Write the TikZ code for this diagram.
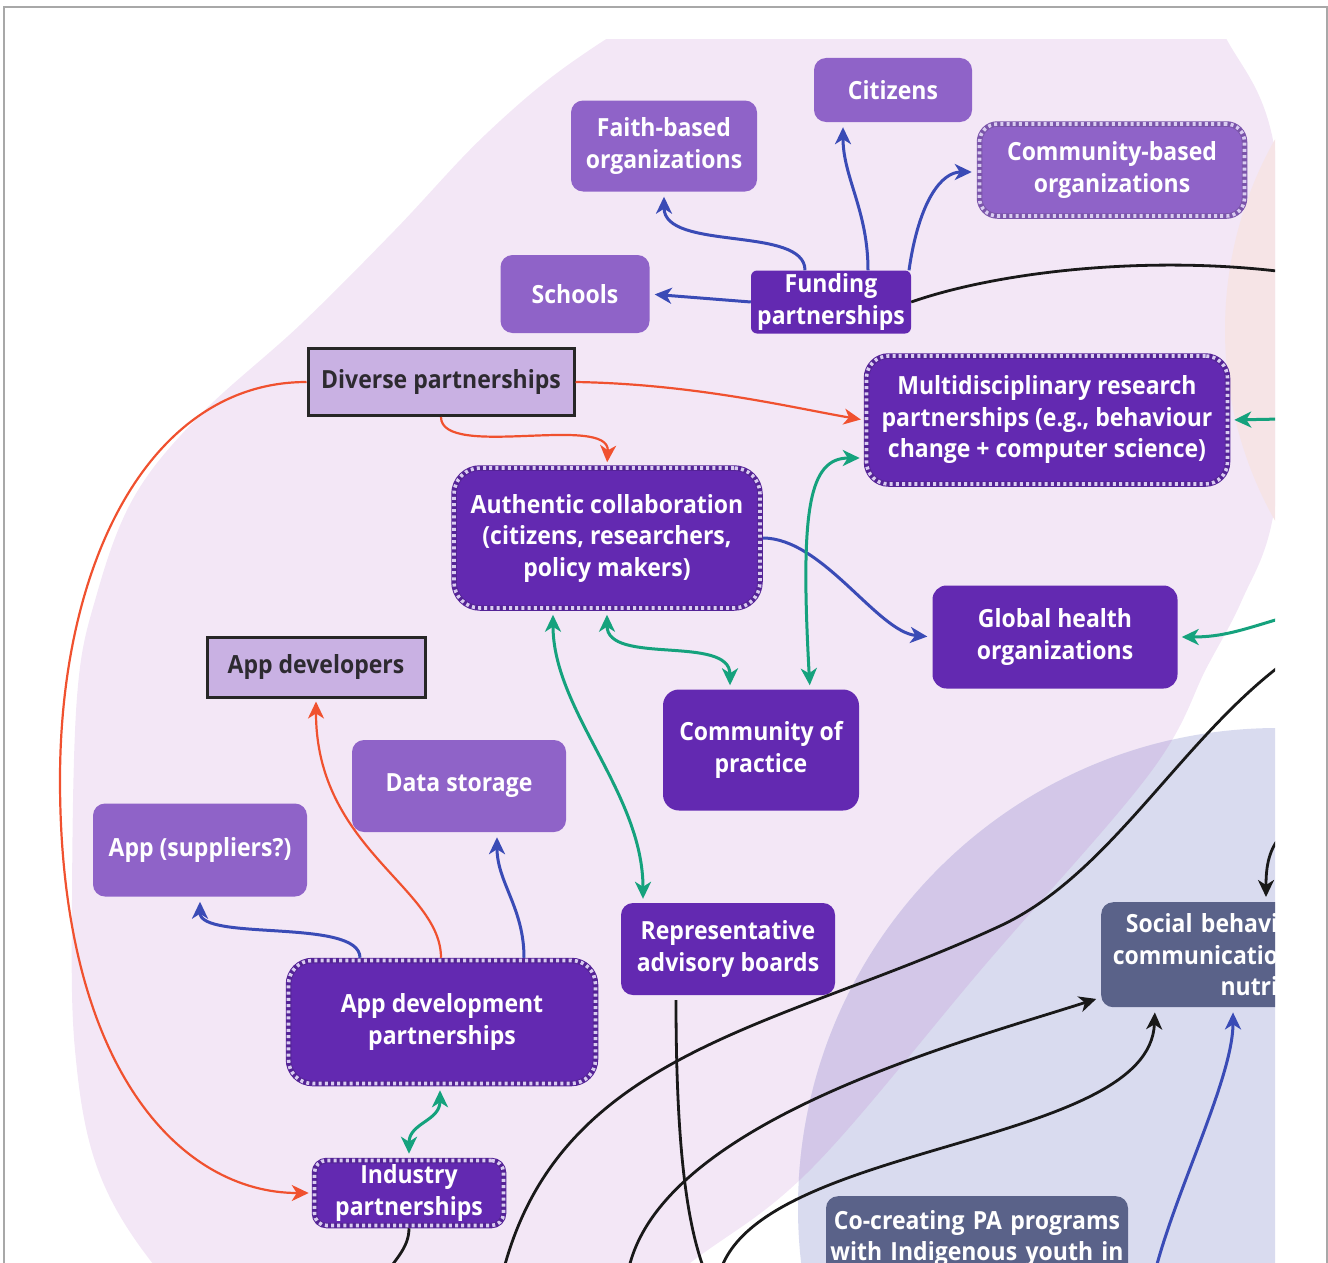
\documentclass[tikz,border=0pt]{standalone}
\usepackage{fontspec}
\setmainfont{Open Sans}[FakeStretch=0.92]
\usetikzlibrary{arrows.meta}

\definecolor{lightpurple}{HTML}{8F63C8}
\definecolor{darkpurple}{HTML}{6329B1}
\definecolor{palepurple}{HTML}{C9B1E3}
\definecolor{textgrey}{HTML}{2D2A30}
\definecolor{slate}{HTML}{5A6289}
\definecolor{stitch}{HTML}{D9CCF0}
\definecolor{lavender}{HTML}{F3E7F6}
\definecolor{blush}{HTML}{F6E4E6}
\definecolor{slatebg}{HTML}{D9DBEF}
\definecolor{overlap}{HTML}{D3C7E8}
\definecolor{linkblue}{HTML}{3A4BB6}
\definecolor{linkred}{HTML}{F0512F}
\definecolor{linkgreen}{HTML}{15A27D}
\definecolor{framegrey}{HTML}{A8A8A8}

\tikzset{
  box/.style={rounded corners=12pt, align=center, inner sep=0pt, text=white,
    font=\bfseries\fontsize{25}{31.5}\selectfont},
  lightbox/.style={box, fill=lightpurple},
  darkbox/.style={box, fill=darkpurple},
  slatebox/.style={box, fill=slate},
  palebox/.style={box, rounded corners=0pt, fill=palepurple, draw=black!85,
    line width=3pt, text=textgrey},
  stitched/.style={draw=#1!85!black, line width=5.5pt,
    postaction={draw=stitch, line width=3.6pt, dash pattern=on 3pt off 3.2pt}},
  bluelink/.style={linkblue, line width=3pt, ->, shorten >=5pt},
  redlink/.style={linkred, line width=2.2pt, ->, shorten >=3pt},
  greenlink/.style={linkgreen, line width=3pt, ->, shorten >=4pt},
  greenboth/.style={linkgreen, line width=3pt, <->, shorten >=4pt, shorten <=4pt},
  blackline/.style={black!90, line width=2.8pt},
  blacklink/.style={blackline, ->, shorten >=5pt},
}

\newcommand{\lavenderblob}{plot[smooth cycle, tension=0.6] coordinates {
  (1227,40) (1273,140) (1290,350) (1273,517) (1242,600) (1207,667) (1150,773)
  (985,965) (812,1168) (690,1263) (560,1360) (380,1400) (230,1340) (150,1260)
  (97,1167) (75,1050) (72,900) (77,697) (96,597) (134,497) (200,415) (300,325)
  (395,230) (485,135) (575,60) (680,0) (850,-60) (1050,-80) (1180,-30)}}

\begin{document}
\begin{tikzpicture}[x=1pt, y=-1pt, >={Stealth[length=17pt, width=16pt, inset=5pt]}]
  \useasboundingbox (0,0) rectangle (1328,1263);
  \draw[framegrey, line width=1.5pt] (4,1263) -- (4,7) -- (1327,7) -- (1327,1263);

  \begin{scope}
    \clip (0,40) rectangle (1275,1263);
    \fill[lavender] \lavenderblob;
    \fill[blush] (1613,330) circle[radius=388pt];
    \fill[slatebg] (1278,1208) circle[radius=480pt];
    \begin{scope}
      \clip \lavenderblob;
      \fill[overlap] (1278,1208) circle[radius=480pt];
    \end{scope}

    % boxes
    \node[lightbox, minimum width=158pt, minimum height=64pt] (citizens) at (893,90) {Citizens};
    \node[lightbox, minimum width=186pt, minimum height=91pt] (faith) at (664,146) {Faith-based\\organizations};
    \node[lightbox, stitched=lightpurple, rounded corners=18pt, minimum width=265pt, minimum height=92pt] (cbo) at (1112,170) {Community-based\\organizations};
    \node[lightbox, minimum width=149pt, minimum height=78pt] (schools) at (575,294) {Schools};
    \node[darkbox, rounded corners=6pt, minimum width=160pt, minimum height=63pt] (funding) at (831,302) {Funding\\partnerships};
    \node[palebox, minimum width=266pt, minimum height=67pt] (diverse) at (441,382) {Diverse partnerships};
    \node[darkbox, stitched=darkpurple, rounded corners=22pt, minimum width=361pt, minimum height=128pt] (multi) at (1047,420) {Multidisciplinary research\\partnerships (e.g., behaviour\\change + computer science)};
    \node[darkbox, stitched=darkpurple, rounded corners=26pt, minimum width=306pt, minimum height=140pt] (authentic) at (607,538) {Authentic collaboration\\(citizens, researchers,\\policy makers)};
    \node[darkbox, rounded corners=14pt, minimum width=245pt, minimum height=103pt] (global) at (1055,637) {Global health\\organizations};
    \node[palebox, minimum width=218pt, minimum height=60pt] (appdevs) at (316,667) {App developers};
    \node[darkbox, rounded corners=16pt, minimum width=196pt, minimum height=121pt] (practice) at (761,750) {Community of\\practice};
    \node[lightbox, minimum width=214pt, minimum height=92pt] (storage) at (459,786) {Data storage};
    \node[lightbox, minimum width=214pt, minimum height=93pt] (suppliers) at (200,850) {App (suppliers?)};
    \node[darkbox, minimum width=214pt, minimum height=92pt] (boards) at (728,949) {Representative\\advisory boards};
    \node[darkbox, stitched=darkpurple, rounded corners=24pt, minimum width=307pt, minimum height=123pt] (appdev) at (442,1022) {App development\\partnerships};
    \node[darkbox, stitched=darkpurple, rounded corners=12pt, minimum width=189pt, minimum height=65pt] (industry) at (409,1193) {Industry\\partnerships};
    \node[slatebox, anchor=north west, align=right, inner xsep=11pt, text width=166pt, minimum height=105pt] (social) at (1101,902) {Social behavi\\communicatio\\nutri};
    \node[slatebox, anchor=north, inner xsep=1pt, inner ysep=16pt, text width=300pt, text height=17pt, text depth=60pt] (cocreate) at (977,1196) {Co-creating PA programs\\with Indigenous youth in};

    % free ends at the cut edge
    \coordinate (blueFoot) at (1155,1272);
    \coordinate (redBend) at (60,780);
    \coordinate (greenIn) at (1282,419);
    \coordinate (greenInLow) at (1282,618);
    \coordinate (blackOut) at (1285,272);
    \coordinate (longTop) at (1285,662);
    \coordinate (longMid) at (1000,926);
    \coordinate (longFoot) at (503,1272);
    \coordinate (footA) at (628,1272);
    \coordinate (footB) at (720,1272);
    \coordinate (footC) at (705,1272);
    \coordinate (footD) at (388,1272);
    \coordinate (socialTop) at (1282,835);

    % blue
    \draw[bluelink] (funding.west) -- (schools.east);
    \draw[bluelink] ([xshift=-26pt]funding.north) .. controls +(0,-45) and +(0,60) .. (faith.south);
    \draw[bluelink] ([xshift=37pt]funding.north) .. controls +(0,-60) and +(0,55) .. ([xshift=-50pt]citizens.south);
    \draw[bluelink] ([xshift=78pt]funding.north) .. controls +(10,-70) and +(-35,0) .. ([yshift=-2pt]cbo.west);
    \draw[bluelink] (authentic.east) .. controls +(60,0) and +(-55,-5) .. (global.west);
    \draw[bluelink] ([xshift=-82pt]appdev.north) .. controls +(0,-40) and +(0,45) .. (suppliers.south);
    \draw[bluelink] ([xshift=82pt]appdev.north) .. controls +(0,-50) and +(0,50) .. ([xshift=38pt]storage.south);
    \draw[bluelink] (blueFoot) .. controls +(20,-80) and +(0,70) .. ([xshift=132pt]social.south west);

    % red
    \draw[redlink] (diverse.east) .. controls +(120,2) and +(-70,-12) .. (multi.west);
    \draw[redlink] (diverse.south) .. controls +(0,43) and +(3,-52) .. (authentic.north);
    \draw[redlink] (diverse.west) .. controls +(-155,0) and +(0,-220) .. (redBend)
      .. controls +(0,290) and +(-130,0) .. (industry.west);
    \draw[redlink] ([xshift=-1pt]appdev.north) .. controls +(0,-70) and +(0,150) .. (appdevs.south);

    % green
    \draw[greenboth] (authentic.south) .. controls +(0,55) and +(0,-55) .. ([xshift=-31pt]practice.north);
    \draw[greenboth] ([yshift=-38pt]multi.west) .. controls +(-55,0) and +(-10,-180) .. ([xshift=49pt]practice.north);
    \draw[greenboth] ([xshift=-54pt]authentic.south) .. controls +(0,100) and +(0,-110) .. ([xshift=-85pt]boards.north);
    \draw[greenboth] ([xshift=-2pt]appdev.south) .. controls +(0,35) and +(0,-35) .. (industry.north);
    \draw[greenlink] (greenIn) -- (multi.east);
    \draw[greenlink] (greenInLow) .. controls +(-40,12) and +(45,0) .. (global.east);

    % black
    \draw[blackline] (funding.east) .. controls +(89,-31) and +(-135,-17) .. (blackOut);
    \draw[blackline] (longTop) .. controls (1180,740) and (1110,875) .. (longMid)
      .. controls (780,1028) and (560,1050) .. (longFoot);
    \draw[blacklink] (footA) .. controls +(30,-150) and +(-140,45) .. ([yshift=10pt]social.south west);
    \draw[blacklink] (footB) .. controls +(40,-130) and +(-5,140) .. ([xshift=54pt]social.south west);
    \draw[blackline, shorten <=5pt] ([xshift=-52pt]boards.south) .. controls +(0,170) and +(-15,-40) .. (footC);
    \draw[blackline] (industry.south) .. controls +(0,20) and +(6,-12) .. (footD);
    \draw[blacklink] (socialTop) .. controls +(-15,15) and +(0,-30) .. ([xshift=165pt]social.north west);
  \end{scope}
\end{tikzpicture}
\end{document}
